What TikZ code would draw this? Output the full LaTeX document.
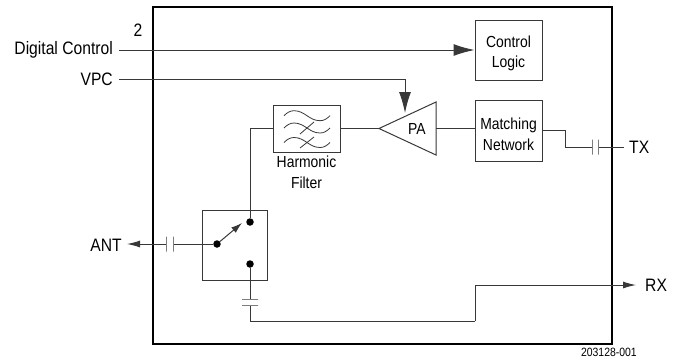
\documentclass[tikz,border=0pt]{standalone}
\usepackage{fontspec}
\setmainfont[FakeStretch=0.87]{Liberation Sans}
\usepackage{tikz}
\usetikzlibrary{arrows.meta,positioning}
\definecolor{wire}{gray}{0.22}
\tikzset{
    block/.style={draw=wire,line width=1pt,inner sep=0pt,align=center,font=\fontsize{16}{20.5}\selectfont},
    blocktext/.style={inner sep=0pt,align=center,font=\fontsize{16}{20.5}\selectfont},
    port/.style={inner sep=0pt,font=\fontsize{18}{20}\selectfont},
    dot/.style={circle,fill=black,inner sep=0pt,minimum size=7.5pt},
    vplate/.style={draw=wire,line width=1pt,inner sep=0pt,minimum width=0pt,minimum height=15pt},
    hplate/.style={draw=wire,line width=1pt,inner sep=0pt,minimum height=0pt,minimum width=16pt},
    wire/.style={draw=wire,line width=1pt},
    bigarrow/.style={wire,-{Latex[length=21pt,width=12pt]}},
    smallarrow/.style={wire,-{Latex[length=13pt,width=7pt]}}
}
\begin{document}
\begin{tikzpicture}[x=1pt,y=-1pt]
    \useasboundingbox (0,0) rectangle (674,360);

    \node[draw=black,line width=2pt,inner sep=0pt,minimum width=459pt,minimum height=337pt] (chip) at (382.5,175.5) {};

    \node[block,minimum width=67pt,minimum height=60pt] (logic) at (508.5,50) {};
    \node[blocktext] (logiclabel) at (508.5,53.5) {Control\\Logic};
    \node[block,minimum width=67pt,minimum height=61pt] (match) at (508.5,130.5) {};
    \node[blocktext] (matchlabel) at (508.5,134.5) {Matching\\Network};
    \node[block,minimum width=67pt,minimum height=47pt] (filter) at (306.5,128.5) {};
    \node[blocktext,below=3.5pt of filter] (filterlabel) {Harmonic\\Filter};
    \node[block,minimum width=65pt,minimum height=70pt] (switch) at (234.5,245) {};

    % amplifier
    \coordinate (patip) at (379,128.5);
    \coordinate (patop) at (436,102);
    \coordinate (pabot) at (436,155);
    \coordinate (paout) at (436,128.5);
    \coordinate (pain) at (405,113);
    \draw[wire] (patip) -- (patop) -- (pabot) -- cycle;
    \node[blocktext] (pa) at (417,129) {PA};

    % filter waves
    \foreach \wy in {115.7,128,142.5} {
        \draw[wire,line width=0.8pt] (284,\wy) .. controls (287,\wy-3) and (290,\wy-5) .. (294,\wy-5)
            .. controls (305,\wy-5) and (309,\wy+5) .. (320,\wy+5)
            .. controls (324,\wy+5) and (327,\wy+3) .. (330,\wy);
    }
    \draw[wire,line width=0.8pt] (300,134) -- (314,122);
    \draw[wire,line width=0.8pt] (300,148) -- (314,137);

    % switch contacts
    \node[dot] (swcom) at (217,244) {};
    \node[dot] (swtop) at (250,222) {};
    \node[dot] (swbot) at (250,264) {};
    \coordinate (swend) at (242,223);
    \draw[wire,-{Latex[length=11pt,width=7pt]}] (swcom) -- (swend);

    % ports
    \node[port,anchor=east] (digital) at (113,50) {Digital Control};
    \node[port,anchor=east] (vpc) at (113,79) {VPC};
    \node[port,anchor=east] (ant) at (122,245) {ANT};
    \node[port,anchor=west] (tx) at (629,147) {TX};
    \node[port,anchor=west] (rx) at (645,285) {RX};
    \node[port] (two) at (138,30) {2};
    \node[inner sep=0pt,anchor=east,font=\fontsize{12}{14}\selectfont] (partno) at (637,352) {203128-001};

    % free ends of the wires
    \coordinate (digitalend) at (119,50);
    \coordinate (vpcend) at (119,79);
    \coordinate (vpcbend) at (405,79);
    \coordinate (antend) at (127,244);
    \coordinate (txend) at (624,147);
    \coordinate (rxend) at (636,285);
    \coordinate (rxbend) at (475,321);

    % capacitors
    \node[vplate] (antcapa) at (173,244) {};
    \node[vplate] (antcapb) at (166,244) {};
    \node[vplate] (txcapa) at (592,147) {};
    \node[vplate] (txcapb) at (598,147) {};
    \node[hplate] (rxcapa) at (250,299) {};
    \node[hplate] (rxcapb) at (250,305) {};

    % connectors
    \draw[bigarrow] (digitalend) -- (logic.west);
    \draw[wire] (vpcend) -- (vpcbend);
    \draw[bigarrow] (vpcbend) -- (pain);
    \draw[wire] (filter.east) -- (patip);
    \draw[wire] (paout) -- (paout -| match.west);
    \draw[wire] (filter.west) -| (swtop);
    \draw[wire] (match.east) -- ++(23,0) |- (txcapa);
    \draw[wire] (txcapb) -- (txend);
    \draw[wire] (swcom) -- (antcapa);
    \draw[smallarrow] (antcapb) -- (antend);
    \draw[wire] (swbot) -- (rxcapa);
    \draw[wire] (rxcapb) |- (rxbend);
    \draw[smallarrow] (rxbend) |- (rxend);
\end{tikzpicture}
\end{document}
